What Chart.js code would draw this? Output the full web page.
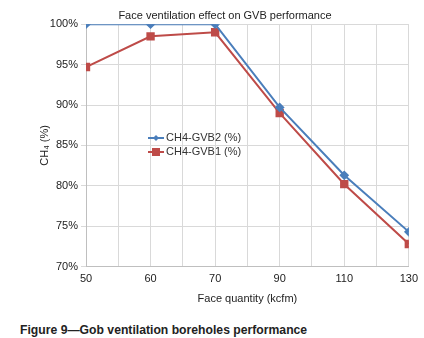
<!DOCTYPE html>
<html>
<head>
<meta charset="utf-8">
<script src="https://cdn.jsdelivr.net/npm/chart.js@4"></script>
<style>
    html, body { margin: 0; padding: 0; background: #fff; }
    #wrap { position: relative; width: 424px; height: 338px; }
    #chartBox { position: absolute; left: 0; top: 0; width: 424px; height: 310px; }
    #caption {
        position: absolute; left: 20px; top: 323px;
        font-family: 'Liberation Sans', Arial, sans-serif;
        font-weight: bold; font-size: 12.2px; color: #222;
        white-space: nowrap;
    }
</style>
</head>
<body>
<div id="wrap">
    <div id="chartBox"><canvas id="gvbChart"></canvas></div>
    <div id="caption">Figure 9—Gob ventilation boreholes performance</div>
</div>
<script>
const faceQuantity = ['50', '60', '70', '90', '110', '130'];
const gvb2 = [100, 100, 100, 89.7, 81.3, 74.3];
const gvb1 = [94.7, 98.5, 99.0, 89.0, 80.2, 72.8];
const yTicks = [70, 75, 80, 85, 90, 95, 100];

const FONT = "'Liberation Sans', Arial, sans-serif";

function toPoints(values) {
    return values.map((v, i) => ({ x: i, y: v }));
}

// legend drawn inside the plot area like the Excel original
const innerLegend = {
    id: 'innerLegend',
    afterDatasetsDraw(chart) {
        const ctx = chart.ctx;
        const x0 = 148, y0 = 138, rowH = 14;
        ctx.save();
        chart.data.datasets.forEach((ds, i) => {
            const y = y0 + i * rowH;
            ctx.strokeStyle = ds.borderColor;
            ctx.lineWidth = 2;
            ctx.beginPath();
            ctx.moveTo(x0, y);
            ctx.lineTo(x0 + 16, y);
            ctx.stroke();
            ctx.fillStyle = ds.backgroundColor;
            const cx = x0 + 8;
            if (ds.pointStyle === 'rectRot') {
                ctx.beginPath();
                ctx.moveTo(cx, y - 3); ctx.lineTo(cx + 3, y);
                ctx.lineTo(cx, y + 3); ctx.lineTo(cx - 3, y);
                ctx.closePath(); ctx.fill();
            } else {
                ctx.fillRect(cx - 4, y - 4, 8, 8);
            }
            ctx.fillStyle = '#333';
            ctx.font = '11px ' + FONT;
            ctx.textBaseline = 'middle';
            ctx.fillText(ds.label, x0 + 18, y);
        });
        ctx.restore();
    }
};

document.addEventListener('DOMContentLoaded', function () {
    const ctx = document.getElementById('gvbChart').getContext('2d');

    new Chart(ctx, {
        type: 'line',
        data: {
            datasets: [
                {
                    label: 'CH4-GVB2 (%)',
                    data: toPoints(gvb2),
                    borderColor: '#4A7EBB',
                    backgroundColor: '#4A7EBB',
                    borderWidth: 2,
                    pointStyle: 'rectRot',
                    pointRadius: 3.5,
                    pointHoverRadius: 3.5,
                    tension: 0
                },
                {
                    label: 'CH4-GVB1 (%)',
                    data: toPoints(gvb1),
                    borderColor: '#BE4B48',
                    backgroundColor: '#BE4B48',
                    borderWidth: 2,
                    pointStyle: 'rect',
                    pointRadius: 4.5,
                    pointHoverRadius: 4.5,
                    tension: 0
                }
            ]
        },
        options: {
            responsive: true,
            maintainAspectRatio: false,
            animation: false,
            layout: { padding: { left: 38, right: 12, top: 0, bottom: 4 } },
            plugins: {
                legend: { display: false },
                tooltip: { enabled: false },
                title: {
                    display: true,
                    text: 'Face ventilation effect on GVB performance',
                    color: '#222',
                    font: { family: FONT, size: 11, weight: 'normal' },
                    padding: { top: 9, bottom: 2 }
                }
            },
            scales: {
                x: {
                    type: 'linear',
                    min: 0,
                    max: faceQuantity.length - 1,
                    afterBuildTicks(scale) {
                        const t = [];
                        for (let v = 0; v <= faceQuantity.length - 1; v += 0.5) t.push({ value: v });
                        scale.ticks = t;
                    },
                    ticks: {
                        autoSkip: false,
                        maxRotation: 0,
                        color: '#222',
                        font: { family: FONT, size: 11 },
                        padding: 6,
                        callback: (v) => Number.isInteger(v) ? faceQuantity[v] : ''
                    },
                    grid: { color: '#D9D9D9', drawTicks: false },
                    border: { color: '#BFBFBF' },
                    title: {
                        display: true,
                        text: 'Face quantity (kcfm)',
                        color: '#222',
                        font: { family: FONT, size: 11 },
                        padding: { top: 1, bottom: 0 }
                    }
                },
                y: {
                    min: 70,
                    max: 100,
                    afterBuildTicks(scale) {
                        scale.ticks = yTicks.map(v => ({ value: v }));
                    },
                    afterFit(scale) {
                        scale.width = 48;
                    },
                    ticks: {
                        color: '#222',
                        font: { family: FONT, size: 11 },
                        padding: 3,
                        callback: (v) => v + '%'
                    },
                    grid: { color: '#D9D9D9', tickLength: 5 },
                    border: { color: '#BFBFBF' },
                    title: {
                        display: true,
                        text: 'CH₄ (%)',
                        color: '#222',
                        font: { family: FONT, size: 11 },
                        padding: { top: 0, bottom: 2 }
                    }
                }
            }
        },
        plugins: [innerLegend]
    });
});
</script>
</body>
</html>
